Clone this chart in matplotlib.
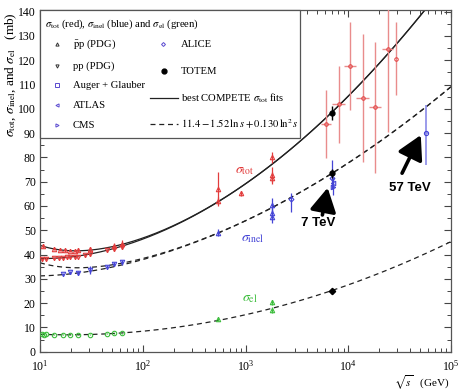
import numpy as np
import matplotlib
matplotlib.use("Agg")
import matplotlib.pyplot as plt
from matplotlib.patches import Rectangle
from matplotlib.ticker import MultipleLocator, LogLocator, NullFormatter

plt.rcParams['font.family'] = ['Liberation Serif', 'DejaVu Serif']
plt.rcParams['mathtext.fontset'] = 'stix'

RED = '#e23c3c'
PINK = '#e98c8c'
BLUE = '#4545d6'
LBLUE = '#8a8ae8'
GREEN = '#3dbd3d'

# ---- low-energy pbar-p total cross sections (PDG) ----
pbarp_tot_sqrts = [10.8, 13.8, 15.6, 17.5, 19.4, 21.7, 23.5, 30.4, 52.6, 62.3]
pbarp_tot = [43.6, 42.4, 42.0, 41.7, 41.6, 41.5, 41.8, 42.2, 43.6, 44.2]
pbarp_tot_err = [0.8, 0.6, 0.5, 0.5, 0.6, 0.6, 0.8, 1.0, 1.2, 1.6]

# ---- low-energy pp total cross sections (PDG) ----
pp_tot_sqrts = [10.4, 11.5, 13.8, 15.3, 16.8, 18.2, 19.4, 21.7, 23.5, 27.4, 30.6, 44.7, 52.8, 62.5]
pp_tot = [38.0, 38.3, 38.4, 38.5, 38.6, 38.8, 38.9, 39.0, 39.2, 39.7, 40.1, 41.7, 42.4, 43.2]
pp_tot_err = [0.6, 0.5, 0.4, 0.4, 0.5, 0.5, 0.5, 0.6, 0.4, 0.6, 0.5, 0.6, 0.8, 1.0]

# ---- collider pbar-p total cross sections ----
coll_tot_sqrts = [546, 546, 900, 1800, 1800, 1800]
coll_tot = [62.2, 66.8, 65.3, 80.0, 72.8, 71.4]
coll_tot_err = [1.5, 7.0, 1.0, 2.2, 3.1, 2.4]

# ---- cosmic-ray total cross sections ----
cr_sqrts = [6.07e3, 8.05e3, 10.4e3, 13.8e3, 18.3e3, 24.1e3, 29.4e3]
cr_tot = [93.7, 101.8, 117.7, 104.5, 100.6, 124.6, 120.7]
cr_tot_err = [14.0, 16.0, 18.0, 26.2, 27.1, 34.1, 15.1]
cr_bin_dex = [0.053, 0.060, 0.057, 0.061, 0.060, 0.057, 0.0]

# ---- inelastic cross sections ----
pp_inel_sqrts = [16.8, 19.5, 23.5, 30.6, 44.7, 52.8, 62.5]
pp_inel = [32.0, 32.8, 32.4, 33.6, 35.0, 36.1, 36.9]
pp_inel_err = [0.5, 0.6, 1.0, 1.5, 0.6, 0.8, 1.0]

coll_inel_sqrts = [546, 1800, 1800, 1800]
coll_inel = [49.0, 60.4, 57.0, 55.6]
coll_inel_err = [1.5, 2.7, 2.5, 2.8]

alice_sqrts = [2760, 6900]
alice_inel = [62.7, 71.4]
alice_err_lo = [5.1, 4.2]
alice_err_hi = [2.5, 7.5]

atlas_sqrts = [7050]
atlas_inel = [69.3]
atlas_err = [2.4]

cms_sqrts = [7150]
cms_inel = [67.9]
cms_err = [3.5]

auger_sqrts = [57000]
auger_inel = [90.0]
auger_err_lo = [13.0]
auger_err_hi = [11.4]

# ---- elastic cross sections ----
pp_el_sqrts = [10.4, 11.0, 11.5, 13.8, 16.8, 19.4, 23.5, 30.6, 44.7, 52.8, 62.5]
pp_el = [7.2, 7.0, 7.1, 7.0, 6.9, 6.9, 6.9, 7.0, 7.3, 7.5, 7.6]
pp_el_err = [0.3, 0.3, 0.3, 0.2, 0.2, 0.2, 0.2, 0.2, 0.2, 0.2, 0.3]

coll_el_sqrts = [546, 1800, 1800]
coll_el = [13.3, 20.3, 17.2]
coll_el_err = [0.6, 0.9, 1.3]

# ---- TOTEM at 7 TeV ----
totem_sqrts = 7000
totem_tot, totem_tot_err = 98.3, 2.8
totem_inel, totem_inel_err = 73.5, 1.9
totem_el, totem_el_err = 24.8, 1.2

# ---- fit parameters ----
Z, B, Y1, Y2, ETA1, ETA2, S0 = 35.45, 0.308, 42.53, 33.34, 0.458, 0.545, 29.1
EL_A, EL_B, EL_C = 11.4, -1.52, 0.130


def sigma_tot(sqrts, sign):
    s = sqrts ** 2
    return Z + B * np.log(s / S0) ** 2 + Y1 * s ** (-ETA1) + sign * Y2 * s ** (-ETA2)


def sigma_el(sqrts):
    ls = np.log(sqrts ** 2)
    return EL_A + EL_B * ls + EL_C * ls ** 2


W, H = 459, 392
fig = plt.figure(figsize=(W / 100, H / 100), dpi=100)
ax = fig.add_axes([40 / W, 1 - 351.7 / H, 411 / W, 341.7 / H])
ax.set_xscale('log')
ax.set_xlim(10, 1e5)
ax.set_ylim(0, 140.7)

# fitted curves
grid = np.logspace(1, 5, 500)
el = sigma_el(grid)
for sign in (+1, -1):
    tot = sigma_tot(grid, sign)
    ax.plot(grid, tot, color='#222222', lw=0.9, zorder=2)
    ax.plot(grid, tot - el, color='#222222', lw=0.9, ls=(0, (4, 3)), zorder=2)
ax.plot(grid, el, color='#222222', lw=0.9, ls=(0, (4, 3)), zorder=2)

mk = dict(ms=3.2, mfc='none', mew=0.8, capsize=0, elinewidth=0.9, ls='none', zorder=3)

# total
ax.errorbar(pbarp_tot_sqrts, pbarp_tot, yerr=pbarp_tot_err, fmt='^', color=RED, **mk)
ax.errorbar(pp_tot_sqrts, pp_tot, yerr=pp_tot_err, fmt='v', color=RED, **mk)
ax.errorbar(coll_tot_sqrts, coll_tot, yerr=coll_tot_err, fmt='^', color=RED, **mk)
cr_x = np.array(cr_sqrts)
cr_d = np.array(cr_bin_dex)
cr_xerr = [cr_x - cr_x * 10 ** (-cr_d), cr_x * 10 ** cr_d - cr_x]
ax.errorbar(cr_sqrts, cr_tot, yerr=cr_tot_err, xerr=cr_xerr, fmt='o', color=RED,
            ecolor=PINK, ms=2.5, mfc='none', mew=0.7, elinewidth=1.0, capsize=0,
            ls='none', zorder=3)

# inelastic
ax.errorbar(pp_inel_sqrts, pp_inel, yerr=pp_inel_err, fmt='v', color=BLUE, **mk)
ax.errorbar(coll_inel_sqrts, coll_inel, yerr=coll_inel_err, fmt='^', color=BLUE, **mk)
ax.errorbar(alice_sqrts, alice_inel, yerr=[alice_err_lo, alice_err_hi], fmt='D',
            color=BLUE, **{**mk, 'ms': 2.5})
ax.errorbar(atlas_sqrts, atlas_inel, yerr=atlas_err, fmt='<', color=BLUE, **mk)
ax.errorbar(cms_sqrts, cms_inel, yerr=cms_err, fmt='>', color=BLUE, **mk)
ax.errorbar(auger_sqrts, auger_inel, yerr=[auger_err_lo, auger_err_hi],
            xerr=[[2500], [2500]], fmt='o', color=BLUE, ecolor=LBLUE,
            ms=3, mfc='none', mew=0.8, elinewidth=1.2, capsize=0, ls='none', zorder=3)

# elastic
ax.errorbar(pp_el_sqrts, pp_el, yerr=pp_el_err, fmt='o', color=GREEN, **mk)
ax.errorbar(coll_el_sqrts, coll_el, yerr=coll_el_err, fmt='^', color=GREEN, **mk)

# TOTEM
ax.errorbar([totem_sqrts], [totem_tot], yerr=[totem_tot_err], fmt='o', color='k',
            ms=3.5, elinewidth=1.0, capsize=0, zorder=4)
ax.errorbar([totem_sqrts], [totem_inel], yerr=[totem_inel_err], fmt='o', color='k',
            ms=3.5, elinewidth=1.0, capsize=0, zorder=4)
ax.errorbar([totem_sqrts], [totem_el], yerr=[totem_el_err], fmt='D', color='k',
            ms=3.2, elinewidth=1.0, capsize=0, zorder=4)

# curve labels
ax.text(977, 74.8, r'$\sigma_{\rm tot}$', color=RED, fontsize=10, ha='center', va='center')
ax.text(1170, 46.8, r'$\sigma_{\rm inel}$', color=BLUE, fontsize=10, ha='center', va='center')
ax.text(1097, 22.1, r'$\sigma_{\rm el}$', color=GREEN, fontsize=10, ha='center', va='center')

# energy callouts
arrow = dict(arrowstyle='-|>,head_length=0.9,head_width=0.5', lw=2.6, color='k',
             mutation_scale=16, shrinkA=0, shrinkB=0)
ax.annotate('', xy=(6300, 67.5), xytext=(5600, 56.3), arrowprops=arrow, zorder=5)
ax.annotate('', xy=(50800, 89.2), xytext=(33400, 73.5), arrowprops=arrow, zorder=5)
ax.text(5117, 53.2, '7 TeV', family='Liberation Sans', weight='bold', fontsize=9.5,
        ha='center', va='center')
ax.text(39800, 67.4, '57 TeV', family='Liberation Sans', weight='bold', fontsize=9.5,
        ha='center', va='center')

# axes styling
ax.yaxis.set_major_locator(MultipleLocator(10))
ax.yaxis.set_minor_locator(MultipleLocator(5))
ax.xaxis.set_major_locator(LogLocator(base=10, numticks=10))
ax.xaxis.set_minor_locator(LogLocator(base=10, subs=np.arange(2, 10), numticks=10))
ax.xaxis.set_minor_formatter(NullFormatter())
ax.tick_params(which='both', direction='in', top=True, right=True, labelsize=8.5,
               color='#444444')
ax.tick_params(which='major', length=5, width=0.8)
ax.tick_params(which='minor', length=3, width=0.7)
ax.tick_params(axis='x', which='major', pad=5.5)
ax.tick_params(axis='y', which='major', pad=3)
ax.set_yticks(np.arange(0, 141, 10))
for sp in ax.spines.values():
    sp.set_color('#555555')
    sp.set_linewidth(0.9)

fig.text(450 / W, 1 - 387 / H, r'$\sqrt{s}$   (GeV)', ha='right', va='baseline', fontsize=8)
fig.text(11 / W, 1 - 12 / H, r'$\sigma_{\rm tot}$, $\sigma_{\rm inel}$, and $\sigma_{\rm el}$   (mb)',
         rotation=90, ha='center', va='top', fontsize=9.5)

# legend box
def px(x, y):
    return (x - 40) / 411, (351.7 - y) / 341.7

x0, y0 = px(40, 138)
x1, y1 = px(300, 10)
ax.add_patch(Rectangle((x0, y0), x1 - x0, y1 - y0, transform=ax.transAxes,
                       facecolor='white', edgecolor='#555555', lw=0.9, zorder=6,
                       clip_on=False))
lt = dict(transform=ax.transAxes, fontsize=7.7, va='center', ha='left', zorder=7)
tx, ty = px(45, 24)
ax.text(tx, ty, r'$\sigma_{\rm tot}$ (red), $\sigma_{\rm inel}$ (blue) and $\sigma_{\rm el}$ (green)', **lt)

col1 = [('^', '#333333', r'$\bar{\rm p}$p (PDG)', 44),
        ('v', '#333333', 'pp (PDG)', 66),
        ('s', '#5a4ad0', 'Auger + Glauber', 85),
        ('<', '#5a4ad0', 'ATLAS', 105),
        ('>', '#5a4ad0', 'CMS', 125)]
for m, c, label, ypx in col1:
    mx, my = px(57, ypx)
    ax.plot([mx], [my], marker=m, color=c, ms=2.3, mfc='none', mew=0.7,
            transform=ax.transAxes, zorder=7, clip_on=False)
    tx, ty = px(73, ypx)
    ax.text(tx, ty, label, **lt)

mx, my = px(163, 44)
ax.plot([mx], [my], marker='D', color='#5a4ad0', ms=2.0, mfc='none', mew=0.7,
        transform=ax.transAxes, zorder=7, clip_on=False)
ax.text(*px(181, 44), 'ALICE', **lt)
mx, my = px(164, 71)
ax.plot([mx], [my], marker='o', color='k', ms=3.5, transform=ax.transAxes,
        zorder=7, clip_on=False)
ax.text(*px(181, 71), 'TOTEM', **lt)
lx0, ly = px(150, 98)
lx1, _ = px(178, 98)
ax.plot([lx0, lx1], [ly, ly], color='#222222', lw=0.9, transform=ax.transAxes, zorder=7)
ax.text(*px(181, 98), r'best COMPETE $\sigma_{\rm tot}$ fits', **lt)
lx0, ly = px(150, 124)
ax.plot([lx0, lx1], [ly, ly], color='#222222', lw=0.9, ls=(0, (4, 3)),
        transform=ax.transAxes, zorder=7)
ax.text(*px(181, 124), r'$11.4 - 1.52\,\ln s + 0.130\,\ln^2 s$', **lt)

fig.savefig('out.png', dpi=100)
